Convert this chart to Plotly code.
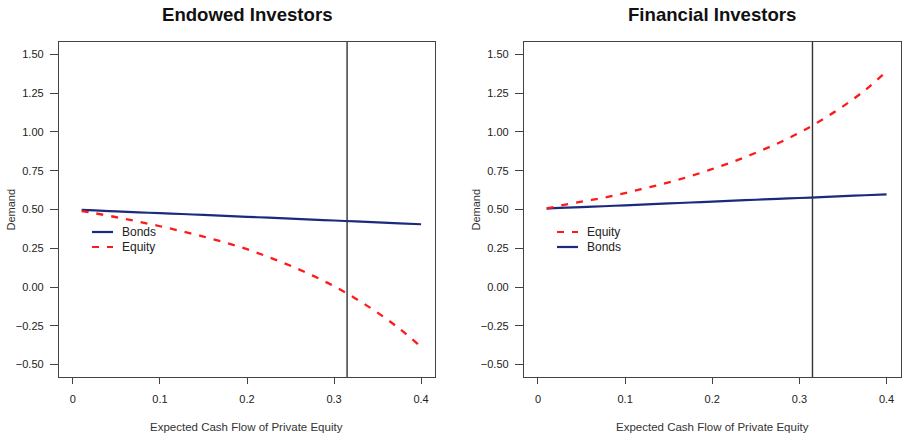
import plotly.graph_objects as go
from plotly.subplots import make_subplots

# Expected cash flow of private equity (x axis)
cash_flow = [0.01, 0.025, 0.05, 0.075, 0.10, 0.125, 0.15, 0.175, 0.20,
             0.225, 0.25, 0.275, 0.30, 0.325, 0.35, 0.375, 0.40]

# Endowed investors
endowed_bonds = [0.498, 0.494, 0.488, 0.482, 0.476, 0.471, 0.465, 0.459, 0.453,
                 0.447, 0.441, 0.435, 0.429, 0.423, 0.417, 0.411, 0.405]
endowed_equity = [0.490, 0.476, 0.450, 0.422, 0.392, 0.360, 0.325, 0.287, 0.244,
                  0.193, 0.137, 0.075, 0.005, -0.075, -0.165, -0.268, -0.385]

# Financial investors
financial_equity = [0.507, 0.524, 0.551, 0.575, 0.606, 0.640, 0.675, 0.715, 0.761,
                    0.810, 0.866, 0.926, 0.995, 1.075, 1.165, 1.268, 1.390]
financial_bonds = [0.506, 0.510, 0.515, 0.521, 0.527, 0.533, 0.539, 0.545, 0.551,
                   0.557, 0.563, 0.569, 0.574, 0.580, 0.586, 0.592, 0.598]

# Reference cash-flow level marked by a vertical line
vline_x = 0.315

panel_titles = ["Endowed Investors", "Financial Investors"]
x_ticks = [0, 0.1, 0.2, 0.3, 0.4]
x_tick_text = ["0", "0.1", "0.2", "0.3", "0.4"]
y_ticks = [-0.5, -0.25, 0.0, 0.25, 0.5, 0.75, 1.0, 1.25, 1.5]

BOND_COLOR = "#1b2a7e"
EQUITY_COLOR = "#ff1a1a"
EQ_DASH = "7px,8px"
FONT = "Liberation Sans, Arial, sans-serif"
W, H = 904, 435

fig = make_subplots(rows=1, cols=2, horizontal_spacing=0.1)

bond_line = dict(color=BOND_COLOR, width=2.2)
eq_line = dict(color=EQUITY_COLOR, width=2.3, dash=EQ_DASH)

fig.add_trace(go.Scatter(x=cash_flow, y=endowed_bonds, mode="lines", line=bond_line,
                         line_shape="spline", name="Bonds", showlegend=False), 1, 1)
fig.add_trace(go.Scatter(x=cash_flow, y=endowed_equity, mode="lines", line=eq_line,
                         line_shape="spline", name="Equity", showlegend=False), 1, 1)
fig.add_trace(go.Scatter(x=cash_flow, y=financial_bonds, mode="lines", line=bond_line,
                         line_shape="spline", name="Bonds", showlegend=False), 1, 2)
fig.add_trace(go.Scatter(x=cash_flow, y=financial_equity, mode="lines", line=eq_line,
                         line_shape="spline", name="Equity", showlegend=False), 1, 2)

# panel geometry in pixels (left, right), shared top/bottom
panels = [(59, 435), (524, 900.5)]
top_px, bot_px = 42, 377
ydom = [1 - bot_px / H, 1 - top_px / H]

axis_common = dict(showgrid=False, zeroline=False, showline=True, mirror=True,
                   linecolor="#444", linewidth=1.3, ticks="outside",
                   tickcolor="#444", tickwidth=1.3,
                   tickfont=dict(family=FONT, size=11, color="#222"))

for i, (l, r) in enumerate(panels, start=1):
    xa = "xaxis" if i == 1 else f"xaxis{i}"
    ya = "yaxis" if i == 1 else f"yaxis{i}"
    fig.layout[xa].update(domain=[l / W, r / W], range=[-0.016, 0.416],
                          tickvals=x_ticks, ticktext=x_tick_text, ticklen=6,
                          ticklabelstandoff=6, **axis_common)
    fig.layout[ya].update(domain=ydom, range=[-0.58, 1.58], tickvals=y_ticks,
                          tickformat=".2f", ticklen=8, ticklabelstandoff=4,
                          **axis_common)

    xr = "x" if i == 1 else f"x{i}"
    yr = "y" if i == 1 else f"y{i}"
    fig.add_shape(type="line", xref=xr, yref=f"{yr} domain", x0=vline_x, x1=vline_x,
                  y0=0, y1=1, line=dict(color="#333", width=1.4))

    cx = (l + r) / 2 / W
    fig.add_annotation(text=f"<b>{panel_titles[i-1]}</b>", xref="paper", yref="paper",
                       x=cx, y=1 - 15 / H, showarrow=False,
                       font=dict(family=FONT, size=18.6, color="#111"),
                       xanchor="center", yanchor="middle")
    fig.add_annotation(text="Expected Cash Flow of Private Equity", xref="paper",
                       yref="paper", x=(246.5 if i == 1 else 712) / W,
                       y=1 - 427 / H, showarrow=False,
                       font=dict(family=FONT, size=11.5, color="#333"),
                       xanchor="center", yanchor="middle")
    fig.add_annotation(text="Demand", xref="paper", yref="paper",
                       x=(10 if i == 1 else 475) / W, y=(ydom[0] + ydom[1]) / 2,
                       textangle=-90, showarrow=False,
                       font=dict(family=FONT, size=11, color="#333"),
                       xanchor="center", yanchor="middle")

# hand-placed legends (sample line + label) inside each panel
legend_rows = [
    (92, [("Bonds", "solid", BOND_COLOR), ("Equity", EQ_DASH, EQUITY_COLOR)]),
    (557, [("Equity", EQ_DASH, EQUITY_COLOR), ("Bonds", "solid", BOND_COLOR)]),
]
for x0, items in legend_rows:
    for k, (label, dash, color) in enumerate(items):
        ypx = 232 + 15 * k
        fig.add_shape(type="line", xref="paper", yref="paper",
                      x0=x0 / W, x1=(x0 + 21) / W, y0=1 - ypx / H, y1=1 - ypx / H,
                      line=dict(color=color, width=2.2, dash=dash))
        fig.add_annotation(text=label, xref="paper", yref="paper",
                           x=(x0 + 28) / W, y=1 - ypx / H, showarrow=False,
                           xanchor="left", yanchor="middle",
                           font=dict(family=FONT, size=12, color="#222"))

fig.update_layout(width=W, height=H, margin=dict(l=0, r=0, t=0, b=0),
                  paper_bgcolor="white", plot_bgcolor="white",
                  font=dict(family=FONT), showlegend=False)

fig.write_html("out.html")
